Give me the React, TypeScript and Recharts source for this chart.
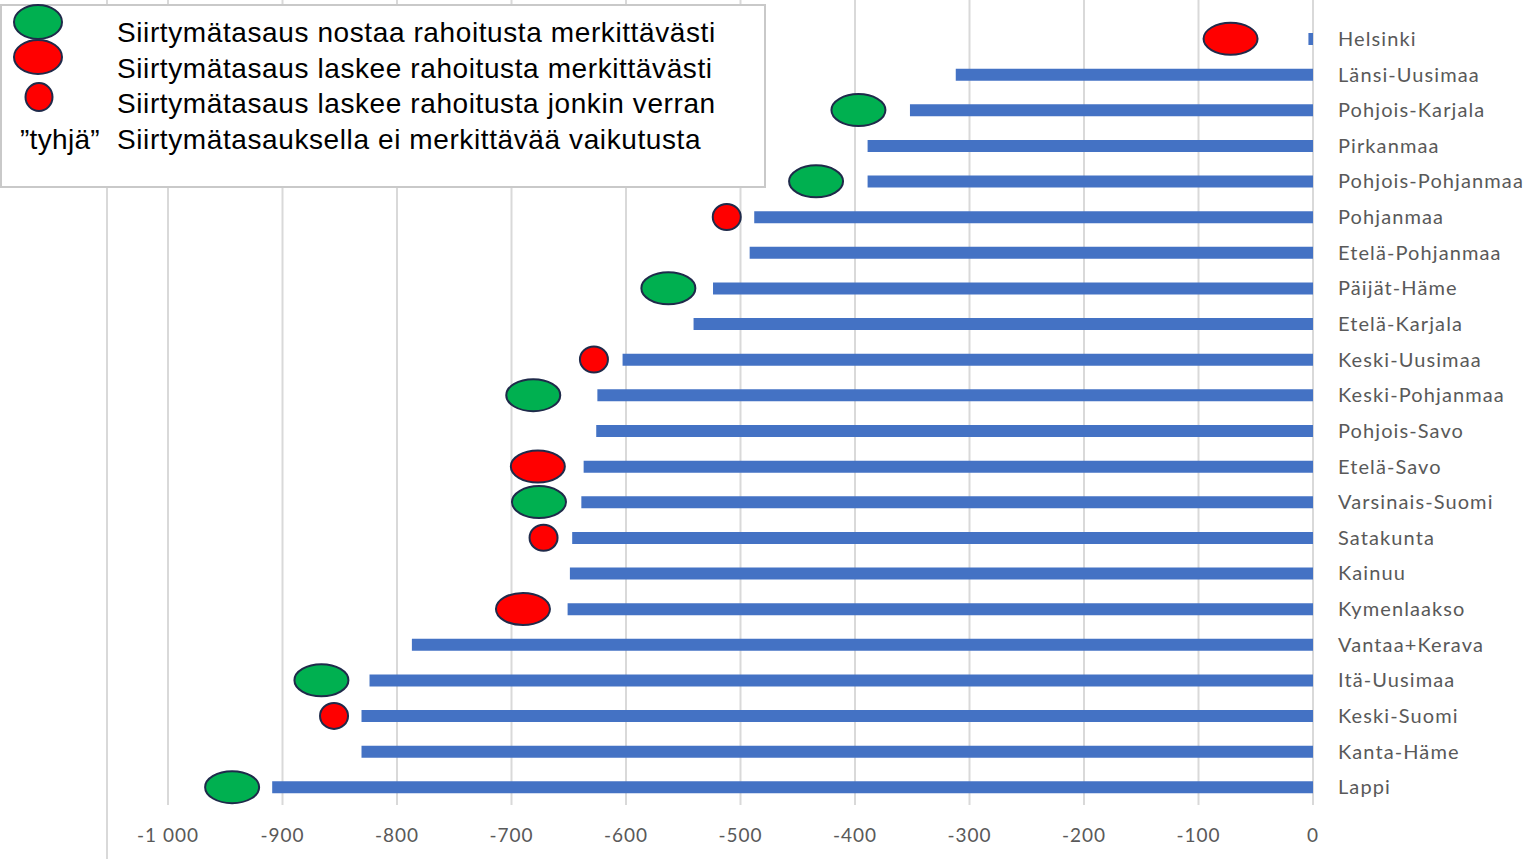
import React from 'react';
import { ComposedChart, Bar, Line, XAxis, YAxis, CartesianGrid } from 'recharts';

const categories = ['Helsinki','Länsi-Uusimaa','Pohjois-Karjala','Pirkanmaa','Pohjois-Pohjanmaa','Pohjanmaa','Etelä-Pohjanmaa','Päijät-Häme','Etelä-Karjala','Keski-Uusimaa','Keski-Pohjanmaa','Pohjois-Savo','Etelä-Savo','Varsinais-Suomi','Satakunta','Kainuu','Kymenlaakso','Vantaa+Kerava','Itä-Uusimaa','Keski-Suomi','Kanta-Häme','Lappi'];
const values = [-4,-312,-352,-389,-389,-488,-492,-524,-541,-603,-625,-626,-637,-639,-647,-649,-651,-787,-824,-831,-831,-909];
const markerValues: (number | null)[] = [-72,null,-397,null,-434,-512,null,-563,null,-628,-681,null,-677,-676,-672,null,-690,null,-866,-855,null,-944];
const markerTypes: (string | null)[] = ['downBig',null,'up',null,'up','downSmall',null,'up',null,'downSmall','up',null,'downBig','up','downSmall',null,'downBig',null,'up','downSmall',null,'up'];
const xTicks = [-1000,-900,-800,-700,-600,-500,-400,-300,-200,-100,0];

const legendItems = [
  { type: 'up', label: 'Siirtymätasaus nostaa rahoitusta merkittävästi' },
  { type: 'downBig', label: 'Siirtymätasaus laskee rahoitusta merkittävästi' },
  { type: 'downSmall', label: 'Siirtymätasaus laskee rahoitusta jonkin verran' },
  { type: 'empty', label: 'Siirtymätasauksella ei merkittävää vaikutusta' },
];

const data = categories.map((name, i) => ({
  name,
  value: values[i],
  marker: markerValues[i],
  markerType: markerTypes[i],
}));

const GREEN = '#00B050';
const RED = '#FF0000';
const EDGE = '#1F2A4A';

const fmt = (v: number) => {
  const s = Math.abs(v).toString().replace(/\B(?=(\d{3})+(?!\d))/g, ' ');
  return (v < 0 ? '-' : '') + s;
};

const MarkerDot = (props: any) => {
  const { cx, cy, payload, index } = props;
  if (cx == null || cy == null || !payload || payload.marker == null) return <g key={`m-${index}`} />;
  const t = payload.markerType;
  if (t === 'downSmall') {
    return <ellipse key={`m-${index}`} cx={cx} cy={cy} rx={14} ry={13} fill={RED} stroke={EDGE} strokeWidth={2} />;
  }
  return <ellipse key={`m-${index}`} cx={cx} cy={cy} rx={27} ry={16} fill={t === 'up' ? GREEN : RED} stroke={EDGE} strokeWidth={2} />;
};

const tickFont = { fontFamily: 'Lato, "Open Sans", sans-serif', fontSize: 20, fill: '#595959', letterSpacing: 1.1 };
const xTickFont = { fontFamily: 'Lato, "Open Sans", sans-serif', fontSize: 19, fill: '#595959', letterSpacing: 1.0 };

export default function App() {
  return (
    <div style={{ position: 'absolute', left: 0, top: 0, width: 1529, height: 859, background: '#fff', overflow: 'hidden' }}>
      <div style={{ position: 'absolute', left: 106, top: 0, width: 2, height: 859, background: '#d9d9d9' }} />
      <ComposedChart
        width={1529}
        height={859}
        data={data}
        layout="vertical"
        margin={{ top: 0, right: 0, bottom: 0, left: 168 }}
      >
        <CartesianGrid horizontal={false} vertical stroke="#d9d9d9" strokeWidth={2} />
        <XAxis
          type="number"
          domain={[-1000, 0]}
          ticks={xTicks}
          tickFormatter={fmt}
          axisLine={false}
          tickLine={false}
          tickSize={0}
          tickMargin={24}
          height={54}
          tick={xTickFont}
          allowDataOverflow
        />
        <YAxis
          type="category"
          dataKey="name"
          orientation="right"
          width={216}
          axisLine={false}
          tickLine={false}
          tickSize={0}
          tickMargin={25}
          interval={0}
          padding={{ top: 21, bottom: 0 }}
          tick={{ ...tickFont, textAnchor: 'start' }}
        />
        <Bar dataKey="value" fill="#4472C4" barSize={12} isAnimationActive={false} />
        <Line dataKey="marker" stroke="none" dot={MarkerDot} activeDot={false} isAnimationActive={false} connectNulls={false} legendType="none" />
      </ComposedChart>
      <div style={{ position: 'absolute', left: 0, top: 4, width: 762, height: 180, border: '2px solid #c9c9c9', background: '#fff', fontFamily: '"Liberation Sans", Arial, sans-serif', fontSize: 28, letterSpacing: 0.6, color: '#000' }}>
        {legendItems.map((it, i) => (
          <div key={i} style={{ position: 'absolute', left: 0, top: 11 + i * 35.5, height: 32, width: 760 }}>
            {it.type === 'empty' ? (
              <span style={{ position: 'absolute', left: 18, top: 0, lineHeight: '32px', letterSpacing: 0.3 }}>”tyhjä”</span>
            ) : (
              <svg style={{ position: 'absolute', left: 0, top: i === 0 ? -17 : i === 1 ? -17.5 : -13 }} width={80} height={44}>
                {it.type === 'downSmall' ? (
                  <ellipse cx={37} cy={22} rx={13.5} ry={14} fill={RED} stroke={EDGE} strokeWidth={2} />
                ) : (
                  <ellipse cx={36} cy={22} rx={24} ry={17} fill={it.type === 'up' ? GREEN : RED} stroke={EDGE} strokeWidth={2} />
                )}
              </svg>
            )}
            <span style={{ position: 'absolute', left: 115, top: 0, lineHeight: '32px', whiteSpace: 'nowrap' }}>{it.label}</span>
          </div>
        ))}
      </div>
    </div>
  );
}
